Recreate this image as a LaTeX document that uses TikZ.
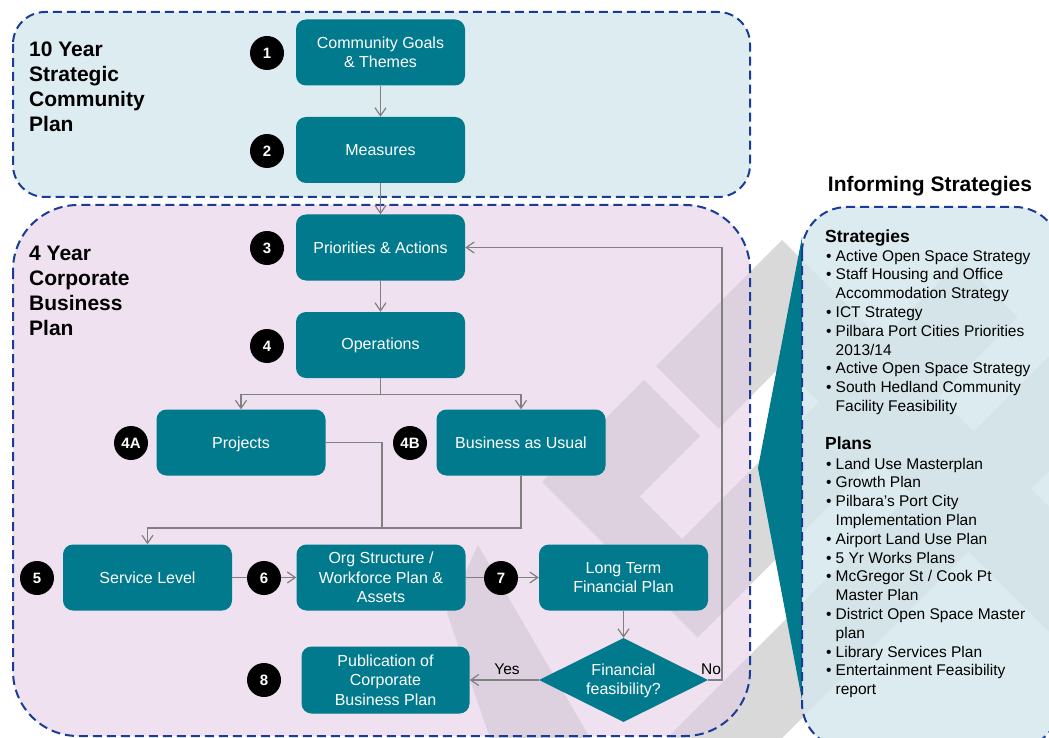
\documentclass[tikz,border=0pt]{standalone}
\usepackage{fontspec}
\setmainfont{Liberation Sans}
\usetikzlibrary{arrows.meta,shapes.geometric}
\definecolor{teal1}{HTML}{007A8C}
\definecolor{navy}{HTML}{1A3C96}
\definecolor{conng}{HTML}{808080}
\definecolor{topfill}{HTML}{DDECF0}
\definecolor{pinkfill}{RGB}{226,202,228}
\definecolor{bluefill}{RGB}{212,231,236}
\definecolor{wm}{HTML}{D9D9D9}
\newcommand{\wbul}{\makebox[9.5pt][l]{•}}
\newcommand{\wcont}{\hspace*{9.5pt}}
\begin{document}
\begin{tikzpicture}[x=1pt,y=-1pt,
  wbox/.style={draw=none, fill=teal1, rounded corners=10pt, minimum width=169pt, minimum height=66pt, align=center, text=white, font=\fontsize{16}{19.5}\selectfont, inner sep=2pt},
  wnum/.style={circle, fill=black, minimum size=34pt, inner sep=0pt, text=white, font=\bfseries\fontsize{15}{18}\selectfont},
  wconn/.style={draw=conng, line width=1.2pt},
  warr/.style={wconn, -{Straight Barb[length=8pt,width=11pt]}},
  wpanel/.style={draw=navy, line width=2pt, dash pattern=on 9pt off 5pt},
  wtitle/.style={anchor=base west, inner sep=0pt, font=\bfseries\fontsize{21}{25}\selectfont},
  witem/.style={anchor=base west, inner sep=0pt, font=\fontsize{15.5}{18.8}\selectfont},
  whead/.style={anchor=base west, inner sep=0pt, font=\bfseries\fontsize{17.5}{20}\selectfont},
  wlbl/.style={inner sep=0pt, font=\fontsize{15.5}{18}\selectfont}
]
\useasboundingbox (0,0) rectangle (1049,738);
\clip (0,0) rectangle (1049,738);
\fill[white] (0,0) rectangle (1049,738);

% watermark
\fill[wm] (782,240) -- (656,366) -- (718.5,428.5) -- (782,365) -- (1058.5,641.5) -- (1121,579) -- cycle;
\fill[wm] (644,380) -- (700,436) -- (639.5,496.5) -- (682,539) -- (960.5,260.5) -- (1017.5,317.5) -- (697.5,637.5) -- (542,482) -- cycle;
\fill[wm] (652.5,752.5) -- (1052.5,352.5) -- (1110,410) -- (710,810) -- cycle;
\fill[wm] (478,545) -- (590,738) -- (490,738) -- (447,613) -- cycle;

% panels
\draw[wpanel, fill=topfill, rounded corners=32pt] (13,12) rectangle (750,197);
\path[fill=pinkfill, fill opacity=0.55, rounded corners=65pt] (13,205) rectangle (750,736);
\draw[wpanel, rounded corners=65pt] (13,205) rectangle (750,736);
\fill[teal1] (802,237) -- (758,468) -- (802,700) -- cycle;
\path[fill=bluefill, fill opacity=0.8, rounded corners=45pt] (802,207) rectangle (1060,748);
\draw[wpanel, rounded corners=45pt] (802,207) rectangle (1060,748);

% titles
\foreach \txt [count=\i] in {10 Year, Strategic, Community, Plan}
  \node[wtitle] (ta\i) at (29,32+25*\i) {\txt};
\foreach \txt [count=\i] in {4 Year, Corporate, Business, Plan}
  \node[wtitle] (tb\i) at (29,235+25*\i) {\txt};

\node[wlbl, anchor=base, font=\bfseries\fontsize{21}{24}\selectfont] (infotitle) at (930,192) {Informing Strategies};
\node[whead] (sh) at (825,242) {Strategies};
\foreach \txt [count=\i] in {{\wbul Active Open Space Strategy},{\wbul Staff Housing and Office},{\wcont Accommodation Strategy},{\wbul ICT Strategy},{\wbul Pilbara Port Cities Priorities},{\wcont 2013/14},{\wbul Active Open Space Strategy},{\wbul South Hedland Community},{\wcont Facility Feasibility}}
  \node[witem] (s\i) at (826,242.2+18.8*\i) {\txt};
\node[whead] (ph) at (825,449) {Plans};
\foreach \txt [count=\i] in {{\wbul Land Use Masterplan},{\wbul Growth Plan},{\wbul Pilbara’s Port City},{\wcont Implementation Plan},{\wbul Airport Land Use Plan},{\wbul 5 Yr Works Plans},{\wbul McGregor St / Cook Pt},{\wcont Master Plan},{\wbul District Open Space Master},{\wcont plan},{\wbul Library Services Plan},{\wbul Entertainment Feasibility},{\wcont report}}
  \node[witem] (p\i) at (826,450.2+18.8*\i) {\txt};

% boxes
\node[wbox] (b1) at (380.5,52.5) {Community Goals\\\& Themes};
\node[wbox] (b2) at (380.5,150) {Measures};
\node[wbox] (b3) at (380.5,247.5) {Priorities \& Actions};
\node[wbox] (b4) at (380.5,345) {Operations};
\node[wbox, text depth=0pt] (b4a) at (241,442.5) {Projects};
\node[wbox] (b4b) at (521,442.5) {Business as Usual};
\node[wbox] (b5) at (147.5,577.5) {Service Level};
\node[wbox] (b6) at (381,577.5) {Org Structure /\\Workforce Plan \&\\Assets};
\node[wbox] (b7) at (623.5,577.5) {Long Term\\Financial Plan};
\node[wbox, minimum width=168pt, minimum height=67pt] (b8) at (385.5,680) {Publication of\\Corporate\\Business Plan};
\node[diamond, fill=teal1, minimum width=169pt, minimum height=84pt, inner sep=0pt] (dia) at (623.5,680) {};
\node[wlbl, text=white, align=center, font=\fontsize{16}{19.5}\selectfont] (diat) at (623.5,681) {Financial\\feasibility?};

% connectors
\draw[warr] (b1.south) -- (b2.north);
\draw[warr] (b2.south) -- (b3.north);
\draw[warr] (b3.south) -- (b4.north);
\draw[wconn] (b4.south) -- ++(0,16) coordinate (split);
\draw[warr] (split) -| (b4a.north);
\draw[warr] (split) -| (b4b.north);
\coordinate (merge) at (382,528);
\draw[wconn] (b4a.east) -| (merge);
\draw[warr] (b4b.south) |- (merge) -| (b5.north);
\draw[warr] (b5.east) -- (b6.west);
\draw[warr] (b6.east) -- (b7.west);
\draw[warr] (b7.south) -- (dia.north);
\draw[warr] (dia.west) -- (b8.east);
\node[wlbl] (yes) at (507,669) {Yes};
\coordinate (nocorner) at (722,680);
\draw[warr] (dia.east) -- (nocorner) |- (b3.east);
\node[wlbl] (no) at (711,669) {No};

% numbers
\node[wnum] (n1) at (267,53) {1};
\node[wnum] (n2) at (267,151) {2};
\node[wnum] (n3) at (267,248) {3};
\node[wnum] (n4) at (267,346) {4};
\node[wnum] (n4a) at (131,443) {4A};
\node[wnum] (n4b) at (410,443) {4B};
\node[wnum] (n5) at (37,578) {5};
\node[wnum] (n6) at (264,578) {6};
\node[wnum] (n7) at (501,578) {7};
\node[wnum] (n8) at (264,680) {8};
\end{tikzpicture}
\end{document}
